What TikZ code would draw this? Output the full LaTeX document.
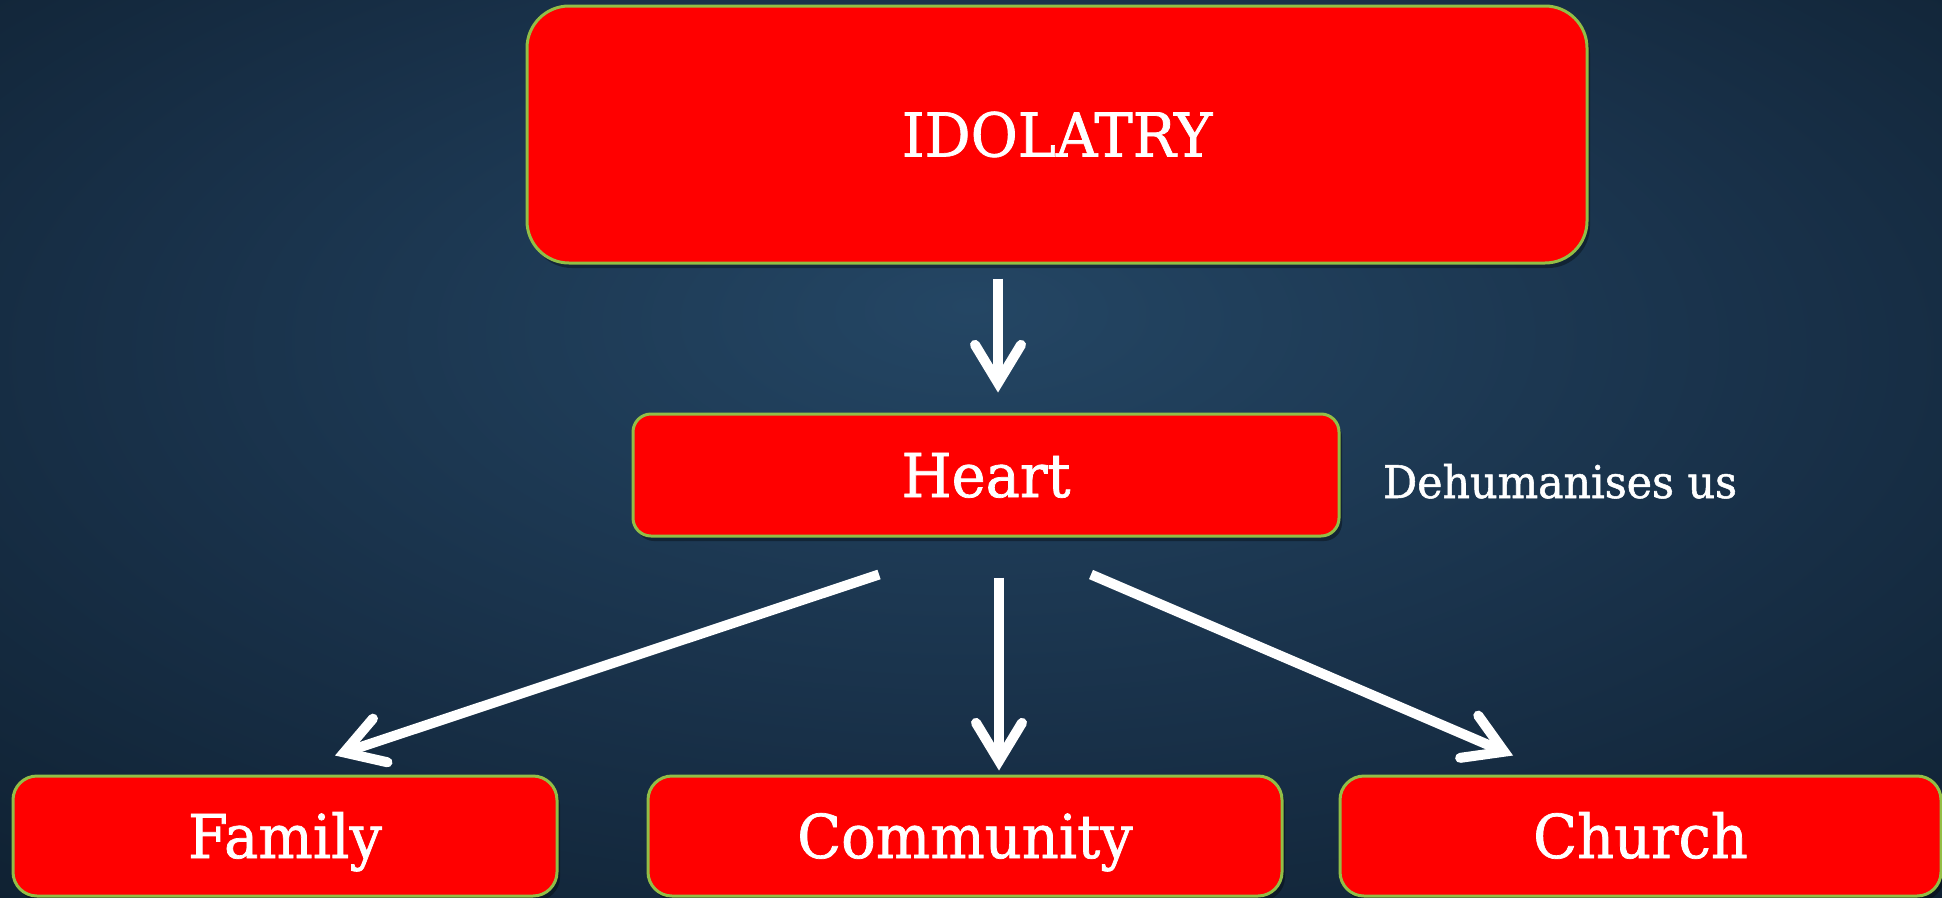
\documentclass[tikz,border=0pt]{standalone}
\usepackage{fontspec}
\newfontfamily\rock[FakeStretch=0.95,FakeBold=1.2]{DejaVu Serif}
\usetikzlibrary{arrows.meta,shadows}
\definecolor{boxred}{RGB}{255,0,0}
\definecolor{boxedge}{RGB}{146,190,70}
\definecolor{bgmid}{RGB}{36,70,100}
\definecolor{bgout}{RGB}{24,48,72}
\definecolor{bgedge}{RGB}{10,24,37}
\pgfdeclareradialshading{bgshade}{\pgfpoint{0bp}{8bp}}{color(0bp)=(bgmid); color(22bp)=(bgout); color(48bp)=(bgedge); color(70bp)=(bgedge)}
\tikzset{
  redbox/.style={draw=boxedge, line width=3pt, fill=boxred, text=white,
    inner sep=0pt, font=\rock\fontsize{60.5}{63}\selectfont,
    text height=44pt, text depth=0pt,
    drop shadow={shadow xshift=3pt, shadow yshift=-5pt, opacity=0.35, fill=black}},
  arr/.style={draw=white, line width=10pt,
    -{Straight Barb[length=38pt, width=46pt, line cap=round, line join=miter]}},
  note/.style={text=white, inner sep=0pt, font=\rock\fontsize{45}{48}\selectfont}
}
\begin{document}
\begin{tikzpicture}[x=1pt, y=-1pt]
\useasboundingbox (0,0) rectangle (1942,897);
\shade[shading=bgshade] (0,0) rectangle (1942,897);

\node[redbox, minimum width=1060pt, minimum height=257pt, rounded corners=42pt] (idol) at (1057,134.5) {IDOLATRY};
\node[redbox, minimum width=706pt, minimum height=122pt, rounded corners=18pt] (heart) at (986,475) {Heart};
\node[note, anchor=base] (dehum) at (1560,498) {Dehumanises us};
\node[redbox, minimum width=544pt, minimum height=120pt, rounded corners=24pt] (family) at (285,836) {Family};
\node[redbox, minimum width=634pt, minimum height=120pt, rounded corners=24pt] (community) at (965,836) {Community};
\node[redbox, minimum width=601pt, minimum height=120pt, rounded corners=24pt] (church) at (1640.5,836) {Church};

\draw[arr] ([xshift=-59pt, yshift=-14pt]idol.south) -- ([xshift=12pt, yshift=20pt]heart.north);
\draw[arr] ([xshift=13pt, yshift=-40pt]heart.south) -- ([xshift=34pt, yshift=4pt]community.north);
\draw[arr] ([xshift=-107pt, yshift=-37pt]heart.south) -- ([xshift=50pt, yshift=19pt]family.north);
\draw[arr] ([xshift=105pt, yshift=-37pt]heart.south) -- ([xshift=-127.5pt, yshift=19pt]church.north);
\end{tikzpicture}
\end{document}
